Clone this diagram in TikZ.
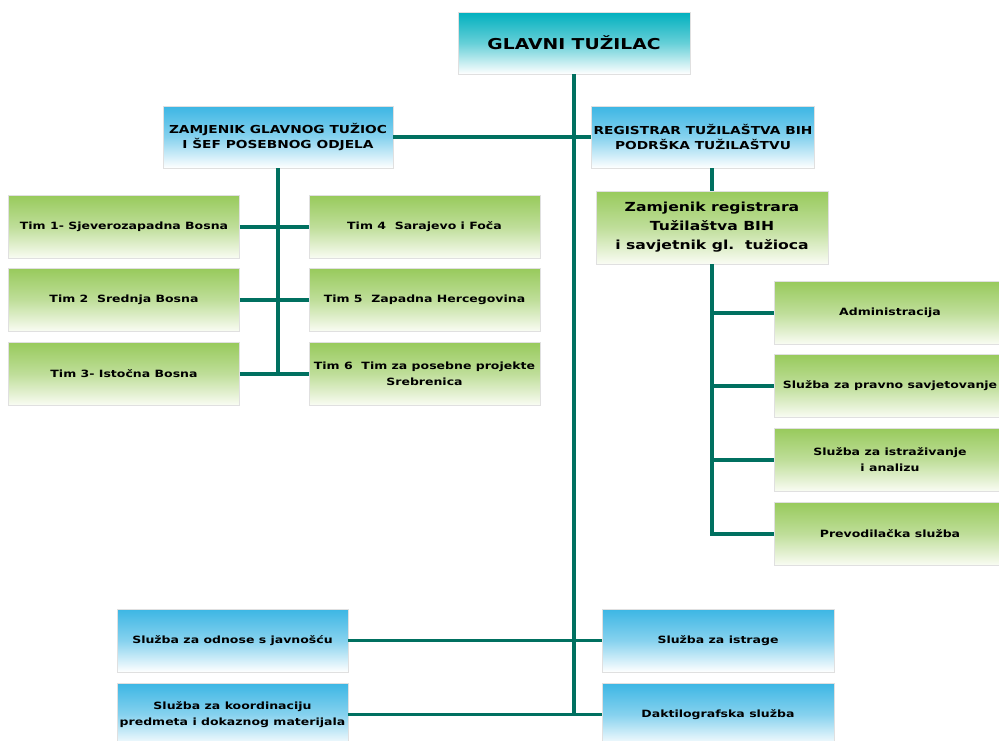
\documentclass[tikz,border=0pt]{standalone}
\usepackage{fontspec}
\newfontfamily\wfont{DejaVu Sans Bold}[FakeStretch=1.25]
\definecolor{lineteal}{RGB}{0,112,96}
\definecolor{bluetop}{RGB}{60,182,228}
\definecolor{tealtop}{RGB}{0,176,190}
\definecolor{greentop}{RGB}{152,202,92}
\definecolor{greenbot}{RGB}{250,252,244}
\begin{document}
\begin{tikzpicture}[x=1pt,y=-1pt,
  box/.style={rectangle, draw=black!12, line width=0.8pt, inner sep=2pt, align=center,
    text=black, minimum width=231pt, minimum height=63pt,
    font=\wfont\fontsize{10}{16}\selectfont},
  bluebox/.style={box, top color=bluetop, bottom color=white, middle color=bluetop!62!white},
  greenbox/.style={box, top color=greentop, bottom color=greenbot, middle color=greentop!62!white},
  headbox/.style={box, top color=tealtop, bottom color=white, middle color=tealtop!60!white,
    font=\wfont\fontsize{15}{18}\selectfont},
  capsbox/.style={bluebox, font=\wfont\fontsize{11}{15}\selectfont},
  conn/.style={draw=lineteal, line width=3.6pt}]
\useasboundingbox (0,0) rectangle (999,740);
% top
\node[headbox, minimum width=232pt, minimum height=62pt] (glavni) at (574,43) {GLAVNI TUŽILAC};
\node[capsbox, minimum width=230pt, minimum height=62pt] (zam) at (278,137) {ZAMJENIK GLAVNOG TUŽIOC\\I ŠEF POSEBNOG ODJELA};
\node[capsbox, minimum width=214pt, minimum height=62pt] (reg) at (703,137) {REGISTRAR TUŽILAŠTVA BIH\\PODRŠKA TUŽILAŠTVU};
\node[greenbox, minimum width=232pt, minimum height=73pt, font=\wfont\fontsize{12.5}{19}\selectfont] (zamreg) at (712,227.5) {Zamjenik registrara\\Tužilaštva BIH\\i savjetnik gl.\ \ tužioca};
% teams
\node[greenbox] (tim1) at (124,227) {Tim 1- Sjeverozapadna Bosna};
\node[greenbox] (tim2) at (124,300) {Tim 2\ \ Srednja Bosna};
\node[greenbox] (tim3) at (124,374) {Tim 3- Istočna Bosna};
\node[greenbox] (tim4) at (424.5,227) {Tim 4\ \ Sarajevo i Foča};
\node[greenbox] (tim5) at (424.5,300) {Tim 5\ \ Zapadna Hercegovina};
\node[greenbox] (tim6) at (424.5,374) {Tim 6\ \ Tim za posebne projekte\\Srebrenica};
% right column
\node[greenbox] (admin) at (890,313) {Administracija};
\node[greenbox] (pravno) at (890,386) {Služba za pravno savjetovanje};
\node[greenbox] (istraz) at (890,460) {Služba za istraživanje\\i analizu};
\node[greenbox] (prevod) at (890,534) {Prevodilačka služba};
% bottom
\node[bluebox] (odnose) at (232.5,640.5) {Služba za odnose s javnošću};
\node[bluebox] (koord) at (232.5,714.5) {Služba za koordinaciju\\predmeta i dokaznog materijala};
\node[bluebox, minimum width=232pt] (istrage) at (718,640.5) {Služba za istrage};
\node[bluebox, minimum width=232pt] (dakt) at (718,714.5) {Daktilografska služba};
% connectors
\coordinate (mainend) at (glavni.south |- dakt.west);
\coordinate (leftend) at (zam.south |- tim3.east);
\coordinate (rightend) at (zamreg.south |- prevod.west);
\draw[conn] (glavni.south) -- (mainend);
\draw[conn] (zam.east) -- (reg.west);
\draw[conn] (reg.south -| zamreg.north) -- (zamreg.north);
\draw[conn] (zam.south) -- (leftend);
\draw[conn] (tim1.east) -- (tim4.west);
\draw[conn] (tim2.east) -- (tim5.west);
\draw[conn] (tim3.east) -- (tim6.west);
\draw[conn] (zamreg.south) -- (rightend) -- (prevod.west);
\draw[conn] (zamreg.south |- admin.west) -- (admin.west);
\draw[conn] (zamreg.south |- pravno.west) -- (pravno.west);
\draw[conn] (zamreg.south |- istraz.west) -- (istraz.west);
\draw[conn] (odnose.east) -- (istrage.west);
\draw[conn] (koord.east) -- (dakt.west);
\end{tikzpicture}
\end{document}
